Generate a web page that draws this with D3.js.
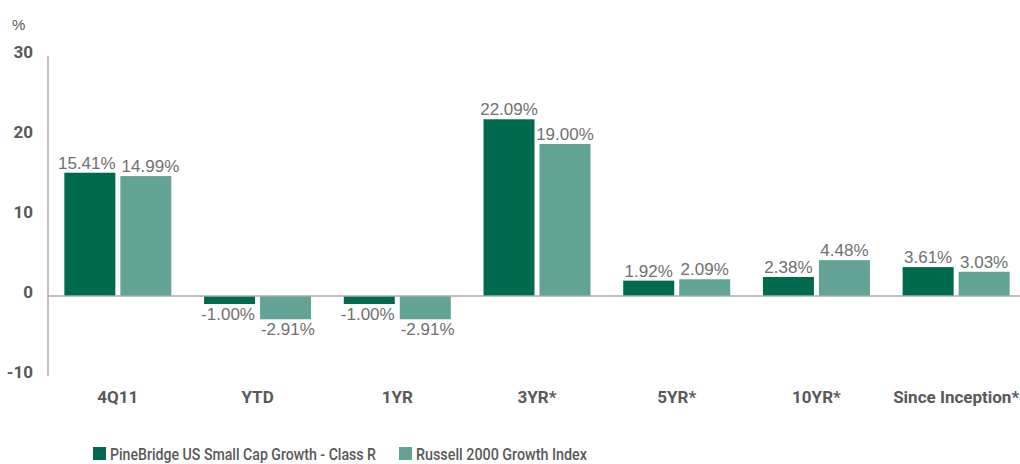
<!DOCTYPE html>
<html>
<head>
<meta charset="utf-8">
<script src="https://cdn.jsdelivr.net/npm/d3@7"></script>
<style>
  body { margin: 0; background: #fff; }
  text { font-family: "Liberation Sans", Arial, sans-serif; }
  .bold-label { font-family: Roboto, "Liberation Sans", sans-serif; }
</style>
</head>
<body>
<svg id="chart" width="1020" height="464"></svg>
<script>
// chart values
const categories = ['4Q11', 'YTD', '1YR', '3YR*', '5YR*', '10YR*', 'Since Inception*']
const seriesNames = ['PineBridge US Small Cap Growth - Class R', 'Russell 2000 Growth Index']
const fundValues = [15.41, -1.00, -1.00, 22.09, 1.92, 2.38, 3.61]
const indexValues = [14.99, -2.91, -2.91, 19.00, 2.09, 4.48, 3.03]
const yTicks = [-10, 0, 10, 20, 30]

const colors = ['#006a4e', '#62a396']
const svg = d3.select('#chart')

// plot area
const plotLeft = 48, plotRight = 1026, plotTop = 56, plotBottom = 376

const x = d3.scaleBand()
  .domain(categories)
  .range([plotLeft, plotRight])
  .paddingInner(0)
  .paddingOuter(0)

const y = d3.scaleLinear()
  .domain([-10, 30])
  .range([plotBottom, plotTop])

// bars inside each band: two bars of 51px with a 5px gap
const barW = 51, gap = 5
const xs = d3.scaleBand()
  .domain([0, 1])
  .range([0, barW * 2 + gap])
  .paddingInner(gap / (barW + gap))

// y axis tick labels
svg.append('g')
  .selectAll('text')
  .data(yTicks)
  .enter().append('text')
  .attr('class', 'bold-label')
  .attr('x', 33)
  .attr('y', d => y(d) + 2)
  .attr('text-anchor', 'end')
  .attr('font-size', 17)
  .attr('font-weight', 'bold')
  .attr('fill', '#595959')
  .text(d => d)

svg.append('text')
  .attr('x', 12)
  .attr('y', 30)
  .attr('font-size', 15)
  .attr('fill', '#595959')
  .text('%')

// bars
const data = categories.map((c, i) => ({category: c, values: [fundValues[i], indexValues[i]]}))

const groups = svg.append('g')
  .selectAll('g')
  .data(data)
  .enter().append('g')
  .attr('transform', d => `translate(${x(d.category) + (x.bandwidth() - (barW * 2 + gap)) / 2},0)`)

groups.selectAll('rect')
  .data(d => d.values.map((v, k) => ({v, k})))
  .enter().append('rect')
  .attr('x', d => xs(d.k))
  .attr('width', xs.bandwidth())
  .attr('y', d => y(Math.max(0, d.v)))
  .attr('height', d => Math.abs(y(d.v) - y(0)))
  .attr('fill', d => colors[d.k])

// value labels
groups.each(function () {
  const labels = d3.select(this).selectAll('text')
    .data(d => d.values.map((v, k) => ({v, k})))
    .enter().append('text')
    .attr('x', d => xs(d.k) + xs.bandwidth() / 2)
    .attr('y', d => d.v >= 0 ? y(d.v) - 4 : y(d.v) + 16)
    .attr('text-anchor', 'middle')
    .attr('font-size', 17)
    .attr('fill', '#707070')
    .text(d => `${d.v.toFixed(2)}%`)

  // push the two labels apart when they would touch, as Excel does
  const nodes = labels.nodes()
  const b0 = nodes[0].getBBox(), b1 = nodes[1].getBBox()
  const overlapX = b0.x + b0.width + 6 - b1.x
  const overlapY = Math.min(b0.y + b0.height, b1.y + b1.height) - Math.max(b0.y, b1.y)
  if (overlapX > 0 && overlapY > 0) {
    d3.select(nodes[0]).attr('dx', -overlapX * 0.4)
    d3.select(nodes[1]).attr('dx', overlapX * 0.6)
  }
})

// axis lines
svg.append('line')
  .attr('x1', plotLeft).attr('x2', plotLeft)
  .attr('y1', plotTop).attr('y2', plotBottom)
  .attr('stroke', '#888').attr('stroke-width', 1)

svg.append('line')
  .attr('x1', plotLeft).attr('x2', 1020)
  .attr('y1', y(0)).attr('y2', y(0))
  .attr('stroke', '#aaa').attr('stroke-width', 1.5)

// category labels
svg.append('g')
  .selectAll('text')
  .data(categories)
  .enter().append('text')
  .attr('class', 'bold-label')
  .attr('x', d => x(d) + x.bandwidth() / 2)
  .attr('y', 403)
  .attr('text-anchor', 'middle')
  .attr('font-size', 17)
  .attr('font-weight', 'bold')
  .attr('fill', '#595959')
  .text(d => d)

// legend (the reference font is condensed, so the text is squeezed to its width)
const legendX = [93, 399]
const legendWidths = [266, 171]
const legendG = svg.selectAll('.legend')
  .data(seriesNames)
  .enter().append('g')
  .attr('class', 'legend')
  .attr('transform', (d, i) => `translate(${legendX[i]}, 447)`)

legendG.append('rect')
  .attr('width', 13)
  .attr('height', 13)
  .attr('fill', (d, i) => colors[i])

legendG.append('text')
  .attr('class', 'bold-label')
  .attr('x', 17)
  .attr('y', 12.5)
  .attr('font-size', 16.5)
  .attr('font-weight', 500)
  .attr('fill', '#595959')
  .attr('textLength', (d, i) => legendWidths[i])
  .attr('lengthAdjust', 'spacingAndGlyphs')
  .text(d => d)
</script>
</body>
</html>
